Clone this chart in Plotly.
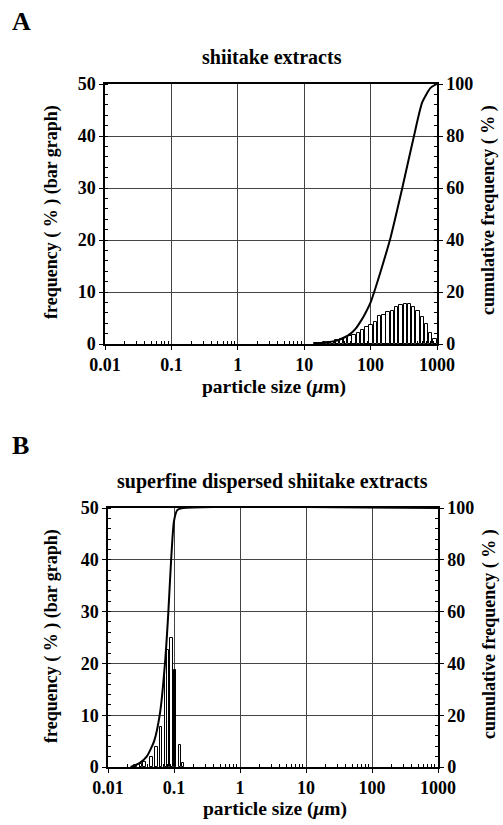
import plotly.graph_objs as go

# panel A: shiitake extracts
a_size = [15, 17.4, 20.1, 23.3, 27.0, 31.3, 36.3, 42.1, 48.8, 56.5, 65.5, 75.9, 88.0, 102,
          118, 137, 159, 184, 214, 248, 287, 333, 386, 447, 519, 601, 697, 808, 937]
a_freq = [0.2, 0.25, 0.3, 0.35, 0.45, 0.7, 0.9, 1.15, 1.45, 1.8, 2.2, 2.75, 3.2, 3.6,
          4.2, 5.3, 5.6, 6.1, 6.4, 7.1, 7.5, 7.7, 7.7, 7.2, 6.3, 5.1, 3.8, 2.2, 1.0]
a_cum_size = [14.5, 20, 30, 40, 50, 60, 70, 80, 100, 120, 150, 200, 300, 450, 600, 800, 1000]
a_cum = [0, 0.5, 1.2, 2.5, 4, 6, 8.5, 11, 16, 22, 30, 41, 60, 80, 93, 98.5, 100]

# panel B: superfine dispersed shiitake extracts
b_size = [0.026, 0.0316, 0.036, 0.0455, 0.054, 0.064, 0.076, 0.081, 0.091, 0.104, 0.123, 0.137]
b_freq = [0.3, 0.6, 1.0, 2.0, 3.9, 7.8, 20.0, 22.5, 24.9, 18.7, 4.2, 0.8]
b_black = [False] * 9 + [True] + [False] * 2
b_cum_size = [0.022, 0.03, 0.0385, 0.05, 0.0615, 0.073, 0.082, 0.09, 0.1, 0.112, 0.137, 1000]
b_cum = [0, 1.5, 4, 10, 21, 40, 59.5, 79, 95, 99.2, 100, 100]

x_ticks = [0.01, 0.1, 1, 10, 100, 1000]
x_ticktext = ['0.01', '0.1', '1', '10', '100', '1000']

FONT = 'Liberation Serif'
W, H = 503, 825

fig = go.Figure()

fig.add_trace(go.Bar(x=a_size, y=a_freq, width=[s * 0.115 for s in a_size],
                     marker=dict(color='white', line=dict(color='black', width=1)),
                     xaxis='x', yaxis='y', showlegend=False))
fig.add_trace(go.Scatter(x=a_cum_size, y=a_cum, mode='lines',
                         line=dict(color='black', width=2, shape='spline', smoothing=0.6),
                         xaxis='x', yaxis='y2', showlegend=False))

fig.add_trace(go.Bar(x=b_size, y=b_freq, width=[s * 0.09 for s in b_size],
                     marker=dict(color=['black' if b else 'white' for b in b_black],
                                 line=dict(color='black', width=1)),
                     xaxis='x2', yaxis='y3', showlegend=False))
fig.add_trace(go.Scatter(x=b_cum_size, y=b_cum, mode='lines',
                         line=dict(color='black', width=2, shape='spline', smoothing=0.6),
                         xaxis='x2', yaxis='y4', showlegend=False))

minor_vals = []
for d in [0.01, 0.1, 1, 10, 100]:
    for k in range(2, 10):
        minor_vals.append(d * k)

tickfont = dict(family=FONT, size=18, color='black', weight='bold')


def xaxis(dom, anchor):
    return dict(type='log', domain=dom, anchor=anchor, range=[-2, 3], automargin=False,
                tickmode='array', tickvals=x_ticks, ticktext=x_ticktext,
                ticks='outside', ticklen=4, tickcolor='black', tickfont=tickfont,
                showline=True, linecolor='black', linewidth=1.5, mirror=True,
                showgrid=True, gridcolor='#444', gridwidth=1, zeroline=False,
                minor=dict(tickmode='array', tickvals=minor_vals, ticks='inside',
                           ticklen=3, tickcolor='black', showgrid=False))


def yleft(dom, anchor):
    return dict(domain=dom, anchor=anchor, range=[0, 50], dtick=10, automargin=False,
                ticks='outside', ticklen=4, tickcolor='black', tickfont=tickfont,
                showline=True, linecolor='black', linewidth=1.5,
                showgrid=True, gridcolor='#444', gridwidth=1, zeroline=False,
                minor=dict(dtick=2, ticks='inside', ticklen=3, tickcolor='black', showgrid=False))


def yright(over, anchor):
    return dict(overlaying=over, anchor=anchor, side='right', range=[0, 100], dtick=20,
                automargin=False,
                ticks='outside', ticklen=4, tickcolor='black', tickfont=tickfont,
                showline=True, linecolor='black', linewidth=1.5,
                showgrid=False, zeroline=False,
                minor=dict(dtick=4, ticks='inside', ticklen=3, tickcolor='black'))


xa = [105 / W, 437 / W]
xb = [108 / W, 438 / W]
ya = [1 - 344 / H, 1 - 84 / H]
yb = [1 - 767 / H, 1 - 508 / H]

fig.update_layout(
    template='none',
    width=W, height=H,
    margin=dict(l=0, r=0, t=0, b=0, pad=0),
    paper_bgcolor='white', plot_bgcolor='white',
    barmode='overlay', bargap=0,
    xaxis=xaxis(xa, 'y'),
    yaxis=yleft(ya, 'x'),
    yaxis2=yright('y', 'x'),
    xaxis2=xaxis(xb, 'y3'),
    yaxis3=yleft(yb, 'x2'),
    yaxis4=yright('y3', 'x2'),
    font=dict(family=FONT, color='black'),
)


def note(text, x, y, size, angle=0, xanchor='center'):
    fig.add_annotation(text='<b>' + text + '</b>', x=x / W, y=1 - y / H, xref='paper', yref='paper',
                       showarrow=False, textangle=angle, xanchor=xanchor, yanchor='middle',
                       font=dict(family=FONT, size=size, color='black'))


note('A', 10, 22, 26, xanchor='left')
note('B', 10, 445, 26, xanchor='left')
note('shiitake extracts', 272, 57, 20)
note('superfine dispersed shiitake extracts', 272, 481, 20)
note('particle size (<i>μ</i>m)', 274, 387, 19.5)
note('particle size (<i>μ</i>m)', 275, 809, 19.5)
note('frequency ( % ) (bar graph)', 51, 212, 18, angle=-90)
note('frequency ( % ) (bar graph)', 51, 636, 18, angle=-90)
note('cumulative frequency ( % )', 489, 210, 18, angle=-90)
note('cumulative frequency ( % )', 489, 634, 18, angle=-90)

# the page body has a default 8px margin; drop it so the figure sits at the window corner
fig.write_html('out.html', config={'displayModeBar': False},
               post_script="document.body.style.margin='0';document.body.style.overflow='hidden';")
